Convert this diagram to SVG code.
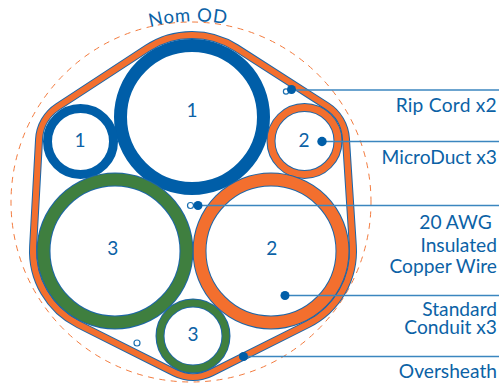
<svg xmlns="http://www.w3.org/2000/svg" width="499" height="386" viewBox="0 0 499 386">
<style>
.lbl{font-family:"Lato","Open Sans",sans-serif;font-size:19.2px;fill:#0B62A6}
.r{text-anchor:end}
.n{text-anchor:middle;font-size:19px}
.ln{stroke:#3B86BF;stroke-width:1.3;fill:none}
.dot{fill:#005EA8}
.open{fill:#fff;stroke:#1C70B0;stroke-width:1.2}
</style>
<defs>
<path id="sheathPath" d="M236.26 47.96L326.9 106.06A41.5 41.5 0 0 1 345.91 138.33L352.83 245.73A82 82 0 0 1 307.77 324.29L211.38 372.65A41 41 0 0 1 174.62 372.65L78.23 324.29A82 82 0 0 1 33.12 246.47L39.06 139.2A41.5 41.5 0 0 1 57.79 106.76L147.14 48.37A82 82 0 0 1 236.26 47.96Z"/>
<path id="odArc" d="M130 33.5A180 180 0 0 1 260 33.5"/>
</defs>
<circle id="nom-od" cx="191" cy="202" r="180" fill="none" stroke="#F37B3E" stroke-width="1" stroke-dasharray="6 5.5" stroke-dashoffset="2"/>
<g id="sheath">
<use href="#sheathPath" fill="#fff" stroke="#1C66A8" stroke-width="8"/>
<use href="#sheathPath" fill="none" stroke="#F36F2E" stroke-width="6"/>
</g>
<g id="conduit-1-large">
<circle cx="192" cy="117" r="71.5" fill="#fff" stroke="#005EA8" stroke-width="13"/>
<text class="lbl n" x="192" y="117">1</text>
</g>
<g id="conduit-1-small">
<circle cx="80.5" cy="141.5" r="33" fill="#fff" stroke="#005EA8" stroke-width="9"/>
<text class="lbl n" x="80" y="146.7">1</text>
</g>
<g id="conduit-2-small">
<circle cx="304.5" cy="141" r="33.5" fill="#fff" stroke="#1C66A8" stroke-width="9"/>
<circle cx="304.5" cy="141" r="33.5" fill="none" stroke="#F36F2E" stroke-width="7"/>
<text class="lbl n" x="304" y="146.7">2</text>
</g>
<g id="conduit-2-large">
<circle cx="271" cy="251" r="71.5" fill="#fff" stroke="#1C66A8" stroke-width="14"/>
<circle cx="271" cy="251" r="71.5" fill="none" stroke="#F36F2E" stroke-width="12"/>
<text class="lbl n" x="271.7" y="254.7">2</text>
</g>
<g id="conduit-3-large">
<circle cx="115" cy="251" r="71.5" fill="#fff" stroke="#1C66A8" stroke-width="14"/>
<circle cx="115" cy="251" r="71.5" fill="none" stroke="#3F7F3F" stroke-width="12"/>
<text class="lbl n" x="112.7" y="254.7">3</text>
</g>
<g id="conduit-3-small">
<circle cx="193" cy="336" r="33" fill="#fff" stroke="#1C66A8" stroke-width="9"/>
<circle cx="193" cy="336" r="33" fill="none" stroke="#3F7F3F" stroke-width="7"/>
<text class="lbl n" x="193" y="341">3</text>
</g>
<g id="connectors">
<line class="ln" x1="291.5" y1="90" x2="499" y2="90"/>
<line class="ln" x1="322" y1="141.5" x2="499" y2="141.5"/>
<line class="ln" x1="198" y1="205.5" x2="499" y2="205.5"/>
<line class="ln" x1="285" y1="295.5" x2="499" y2="295.5"/>
<line class="ln" x1="243.5" y1="356.5" x2="499" y2="356.5"/>
<circle class="open" cx="286" cy="91.5" r="2.6"/>
<circle class="dot" cx="291.5" cy="89.5" r="4.5"/>
<circle class="dot" cx="322" cy="141.5" r="4.7"/>
<circle class="open" cx="190.5" cy="205.5" r="3"/>
<circle class="dot" cx="198" cy="205.5" r="4.5"/>
<circle class="dot" cx="285" cy="295.5" r="4.5"/>
<circle class="dot" cx="243.5" cy="356.5" r="4.5"/>
<circle class="open" cx="137" cy="343" r="3"/>
</g>
<g id="labels">
<text class="lbl" style="font-size:18.5px" letter-spacing="0.7"><textPath href="#odArc" startOffset="21">Nom OD</textPath></text>
<text class="lbl r" x="497" y="112" letter-spacing="0.25">Rip Cord x2</text>
<text class="lbl r" x="497" y="163.5">MicroDuct x3</text>
<text class="lbl r" x="491.7" y="229">20 AWG</text>
<text class="lbl r" x="497" y="251.7">Insulated</text>
<text class="lbl r" x="497" y="272.5">Copper Wire</text>
<text class="lbl r" x="497" y="315.7">Standard</text>
<text class="lbl r" x="497" y="334">Conduit x3</text>
<text class="lbl r" x="497" y="378">Oversheath</text>
</g>
</svg>
